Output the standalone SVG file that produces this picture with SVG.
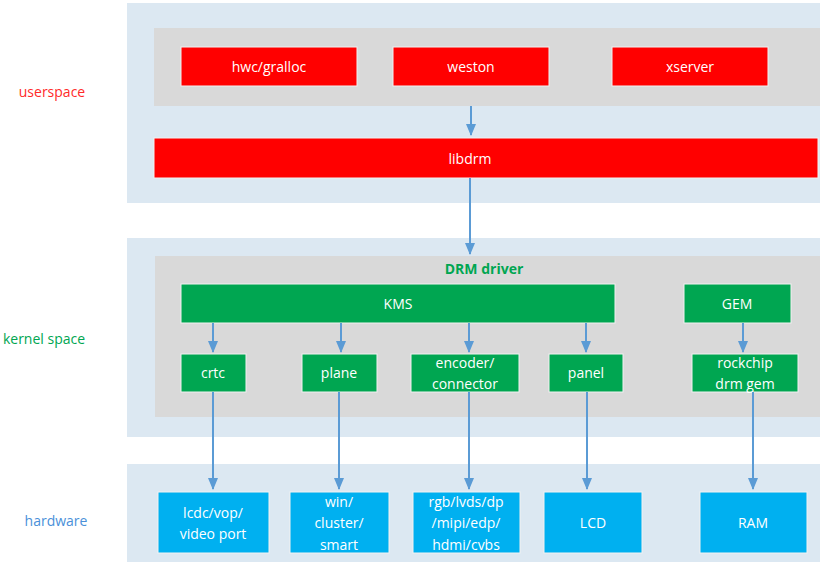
<svg xmlns="http://www.w3.org/2000/svg" width="820" height="562" viewBox="0 0 820 562">
<defs>
<marker id="ah" markerWidth="12" markerHeight="10" refX="11" refY="5" orient="auto" markerUnits="userSpaceOnUse"><path d="M0,0 L12,5 L0,10 z" fill="#5b9bd5"/></marker>
<style>
text{font-family:"Open Sans","Liberation Sans",sans-serif;font-size:14px;text-anchor:middle;dominant-baseline:central}
.band{fill:#dce8f2}.gray{fill:#d9d9d9}
.r{fill:#ff0000;stroke:#f2f2f2;stroke-width:1}.g{fill:#00a651;stroke:#f2f2f2;stroke-width:1}.b{fill:#00b0f0;stroke:#f2f2f2;stroke-width:1}
.w{fill:#ffffff}
.c{stroke:#5b9bd5;stroke-width:2;fill:none;marker-end:url(#ah)}
</style>
</defs>
<rect width="820" height="562" fill="#ffffff"/>
<rect class="band" x="127" y="3" width="693" height="200"/>
<rect class="band" x="127" y="238" width="693" height="199"/>
<rect class="band" x="127" y="464" width="693" height="98"/>
<rect class="gray" x="154" y="28" width="666" height="78"/>
<rect class="gray" x="155" y="256" width="665" height="161"/>
<text x="52" y="91" fill="#ff2a2a">userspace</text>
<text x="44" y="338" fill="#00a651">kernel space</text>
<text x="56" y="520" fill="#4a90d9">hardware</text>
<text x="484" y="268" fill="#00a651" font-weight="bold">DRM driver</text>
<g id="hwc"><rect class="r" x="181" y="47" width="176" height="39"/><text class="w" x="269" y="66">hwc/gralloc</text></g>
<g id="weston"><rect class="r" x="393" y="47" width="156" height="39"/><text class="w" x="471" y="66">weston</text></g>
<g id="xserver"><rect class="r" x="612" y="47" width="156" height="39"/><text class="w" x="690" y="66">xserver</text></g>
<g id="libdrm"><rect class="r" x="154" y="138" width="664" height="40"/><text class="w" x="470" y="158">libdrm</text></g>
<g id="kms"><rect class="g" x="181" y="284" width="434" height="39"/><text class="w" x="398" y="303">KMS</text></g>
<g id="gem"><rect class="g" x="684" y="284" width="107" height="39"/><text class="w" x="737" y="303">GEM</text></g>
<g id="crtc"><rect class="g" x="181" y="354" width="65" height="38"/><text class="w" x="213" y="372">crtc</text></g>
<g id="plane"><rect class="g" x="302" y="354" width="75" height="38"/><text class="w" x="339" y="372">plane</text></g>
<g id="encoder"><rect class="g" x="411" y="354" width="108" height="38"/><text class="w" x="465" y="362">encoder/</text><text class="w" x="465" y="383">connector</text></g>
<g id="panel"><rect class="g" x="549" y="354" width="74" height="38"/><text class="w" x="586" y="372">panel</text></g>
<g id="rockchip"><rect class="g" x="692" y="354" width="106" height="38"/><text class="w" x="745" y="362">rockchip</text><text class="w" x="745" y="383">drm gem</text></g>
<g id="lcdc"><rect class="b" x="158" y="492" width="111" height="61"/><text class="w" x="213" y="512">lcdc/vop/</text><text class="w" x="213" y="533">video port</text></g>
<g id="win"><rect class="b" x="290" y="492" width="99" height="61"/><text class="w" x="339" y="501">win/</text><text class="w" x="339" y="522">cluster/</text><text class="w" x="339" y="544">smart</text></g>
<g id="rgb"><rect class="b" x="413" y="492" width="107" height="61"/><text class="w" x="466" y="501">rgb/lvds/dp</text><text class="w" x="466" y="522">/mipi/edp/</text><text class="w" x="466" y="544">hdmi/cvbs</text></g>
<g id="lcd"><rect class="b" x="544" y="492" width="98" height="61"/><text class="w" x="593" y="522">LCD</text></g>
<g id="ram"><rect class="b" x="700" y="492" width="107" height="61"/><text class="w" x="753" y="522">RAM</text></g>
<g id="connectors">
<line class="c" x1="471" y1="106" x2="471" y2="135"/>
<line class="c" x1="470" y1="178" x2="470" y2="254"/>
<line class="c" x1="213" y1="323" x2="213" y2="352"/>
<line class="c" x1="341" y1="323" x2="341" y2="352"/>
<line class="c" x1="469" y1="323" x2="469" y2="352"/>
<line class="c" x1="586" y1="323" x2="586" y2="352"/>
<line class="c" x1="743" y1="323" x2="743" y2="352"/>
<line class="c" x1="213" y1="392" x2="213" y2="489"/>
<line class="c" x1="339" y1="392" x2="339" y2="489"/>
<line class="c" x1="469" y1="392" x2="469" y2="489"/>
<line class="c" x1="587" y1="392" x2="587" y2="489"/>
<line class="c" x1="753" y1="392" x2="753" y2="489"/>
</g>
</svg>
